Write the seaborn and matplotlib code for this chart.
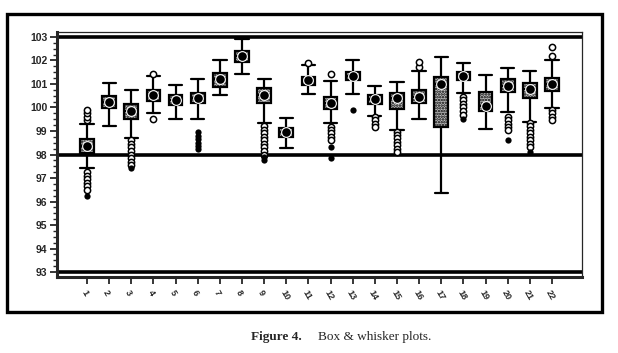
import numpy as np
import pandas as pd
import seaborn as sns
import matplotlib.pyplot as plt
from matplotlib.patches import Rectangle

groups = [str(i) for i in range(1, 23)]

# five-number summaries
whisk_lo = [97.44, 99.2, 98.72, 99.75, 99.5, 99.51, 100.53, 101.44, 99.33, 98.29, 100.56,
            99.33, 100.57, 99.64, 99.04, 99.5, 96.35, 100.63, 99.09, 99.82, 99.4, 99.99]
q1 = [98.08, 99.97, 99.5, 100.29, 100.09, 100.2, 100.86, 101.95, 100.2, 98.73, 100.96,
      99.95, 101.17, 100.15, 99.95, 100.2, 99.18, 101.17, 99.85, 100.65, 100.39, 100.72]
median = [98.36, 100.25, 99.85, 100.55, 100.3, 100.4, 101.2, 102.2, 100.55, 98.95, 101.15,
          100.2, 101.35, 100.35, 100.42, 100.45, 101.0, 101.35, 100.06, 100.9, 100.8, 101.0]
q3 = [98.66, 100.49, 100.15, 100.73, 100.53, 100.6, 101.45, 102.4, 100.84, 99.11, 101.31,
      100.46, 101.52, 100.52, 100.63, 100.74, 101.31, 101.52, 100.65, 101.21, 101.06, 101.27]
whisk_hi = [99.29, 101.05, 100.75, 101.35, 100.96, 101.2, 102.02, 102.9, 101.21, 99.54, 101.81,
            101.13, 102.02, 100.91, 101.1, 101.57, 102.16, 101.88, 101.38, 101.69, 101.57, 102.02]

# outlying points (hollow) and extreme points (filled)
outliers = [
    [99.45, 99.6, 99.75, 99.9, 97.25, 97.1, 96.95, 96.8, 96.65, 96.5],
    [],
    [98.6, 98.45, 98.3, 98.15, 98.0, 97.85, 97.7, 97.55],
    [101.42, 99.52],
    [],
    [],
    [],
    [],
    [99.2, 99.05, 98.9, 98.75, 98.6, 98.45, 98.3, 98.15, 98.0],
    [],
    [101.9],
    [101.42, 99.18, 99.05, 98.9, 98.75, 98.62],
    [],
    [99.58, 99.45, 99.3, 99.15],
    [98.97, 98.85, 98.7, 98.55, 98.4, 98.25, 98.1],
    [101.74, 101.92],
    [],
    [100.45, 100.3, 100.15, 100.0, 99.85, 99.7],
    [],
    [99.58, 99.45, 99.3, 99.15, 99.05],
    [99.33, 99.2, 99.05, 98.9, 98.75, 98.6, 98.45, 98.3],
    [102.19, 102.59, 99.89, 99.75, 99.6, 99.45],
]
extremes = [
    [96.25], [], [97.42], [], [], [98.95, 98.8, 98.65, 98.5, 98.35, 98.25], [], [],
    [97.88, 97.78], [], [], [98.33, 97.85], [99.89], [], [], [], [], [99.5], [],
    [98.62], [98.12], [],
]

ref_lines = [103, 98, 93]

rows = []
for g, a, b, c, d, e in zip(groups, whisk_lo, q1, median, q3, whisk_hi):
    for v in (a, b, c, d, e):
        rows.append({"group": g, "value": v})
box_df = pd.DataFrame(rows)
med_df = pd.DataFrame({"group": groups, "value": median})
out_df = pd.DataFrame([{"group": g, "value": v} for g, vals in zip(groups, outliers) for v in vals])
ext_df = pd.DataFrame([{"group": g, "value": v} for g, vals in zip(groups, extremes) for v in vals])

sns.set_style("ticks")
plt.rcParams['font.family'] = ['Liberation Sans', 'DejaVu Sans']
plt.rcParams['hatch.linewidth'] = 1.2

fig = plt.figure(figsize=(6.18, 3.53), dpi=100)
ax = fig.add_axes([57 / 618, 1 - 277 / 353, 525 / 618, 245 / 353])

sns.boxplot(data=box_df, x="group", y="value", order=groups, whis=(0, 100),
            width=0.62, color="#bdbdbd", linecolor="black", linewidth=1.6,
            showfliers=False, ax=ax)
for p in ax.patches:
    p.set_hatch("......")
    p.set_edgecolor("black")

# widen the whisker caps to about the box width
for ln in ax.lines:
    xd, yd = np.asarray(ln.get_xdata(), float), np.asarray(ln.get_ydata(), float)
    if len(xd) == 2 and yd[0] == yd[1] and xd[0] != xd[1]:
        mid = xd.mean()
        if yd[0] in whisk_lo or yd[0] in whisk_hi:
            ln.set_xdata([mid - 0.3, mid + 0.3])

sns.stripplot(data=out_df, x="group", y="value", order=groups, jitter=False,
              marker="o", size=4.5, color="white", edgecolor="black", linewidth=1.1, ax=ax)
sns.stripplot(data=ext_df, x="group", y="value", order=groups, jitter=False,
              marker="o", size=4.5, color="black", ax=ax)
sns.stripplot(data=med_df, x="group", y="value", order=groups, jitter=False,
              marker="o", size=7, color="black", edgecolor="white", linewidth=0.8, ax=ax)

for v in ref_lines:
    ax.axhline(v, color="black", lw=2.6, zorder=1)

ax.set_xlim(-1.355, 22.355)
ax.set_ylim(92.79, 103.21)
ax.set_yticks(range(93, 104))
ax.set_yticks(np.arange(93, 103.01, 0.25), minor=True)
ax.tick_params(axis="y", which="major", length=5, width=1.3, labelsize=7.5, pad=2)
ax.tick_params(axis="y", which="minor", length=3, width=1)
ax.tick_params(axis="x", length=5, width=1.3, labelsize=6.5, pad=3)
plt.setp(ax.get_xticklabels(), rotation=-60, ha="left", va="top", rotation_mode="anchor")
for lbl in ax.get_yticklabels() + ax.get_xticklabels():
    lbl.set_fontweight("bold")
ax.set_xlabel("")
ax.set_ylabel("")
ax.spines["left"].set_linewidth(2.2)
ax.spines["bottom"].set_linewidth(2.2)
ax.spines["top"].set_linewidth(0.9)
ax.spines["right"].set_linewidth(0.9)

fig.patches.append(Rectangle((7 / 618, 1 - 312 / 353), 595 / 618, 298 / 353,
                             transform=fig.transFigure, fill=False, lw=2.4,
                             edgecolor="black"))
fig.text(302 / 618, 1 - 337 / 353, "Figure 4.", family="Liberation Serif", fontsize=9.5,
         fontweight="bold", ha="right", va="center")
fig.text(318 / 618, 1 - 337 / 353, "Box & whisker plots.", family="Liberation Serif",
         fontsize=9.5, ha="left", va="center")

fig.savefig("out.png", dpi=100)
